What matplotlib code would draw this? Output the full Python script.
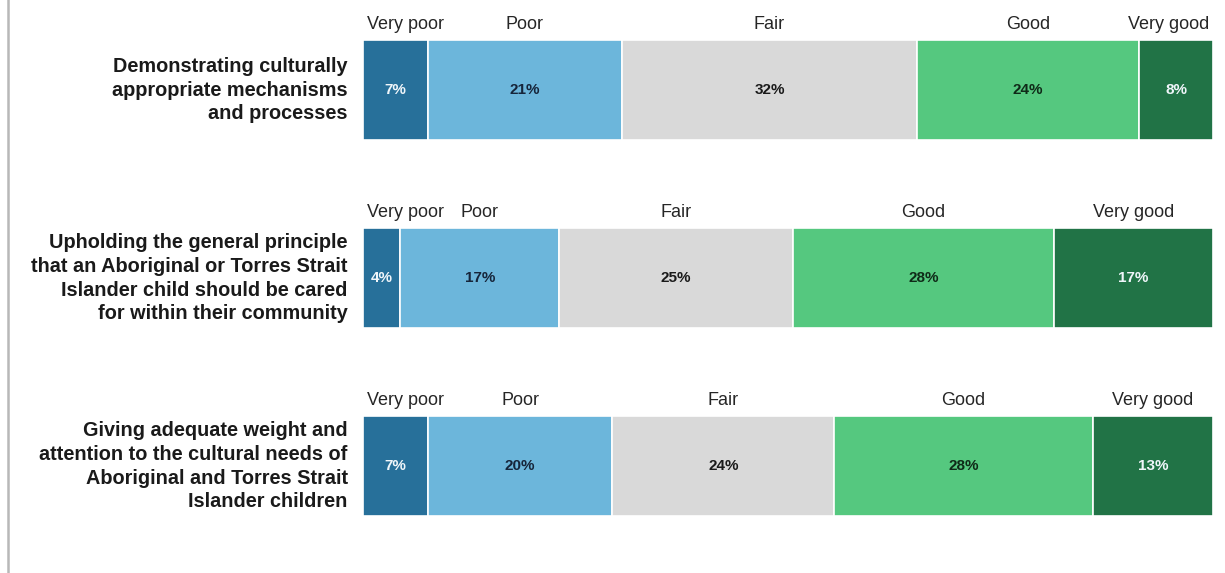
import numpy as np
import matplotlib.pyplot as plt
from matplotlib.lines import Line2D

plt.rcParams['font.family'] = ['Liberation Sans', 'DejaVu Sans']

###############
## Survey data

questions = [
    "Demonstrating culturally\nappropriate mechanisms\nand processes",
    "Upholding the general principle\nthat an Aboriginal or Torres Strait\nIslander child should be cared\nfor within their community",
    "Giving adequate weight and\nattention to the cultural needs of\nAboriginal and Torres Strait\nIslander children",
]
ratings = ["Very poor", "Poor", "Fair", "Good", "Very good"]

very_poor = [7, 4, 7]
poor = [21, 17, 20]
fair = [32, 25, 24]
good = [24, 28, 28]
very_good = [8, 17, 13]

colors = ["#27709a", "#6cb6db", "#d9d9d9", "#55c87f", "#217346"]
text_colors = ["#f0f6fa", "#16253a", "#1a1a1a", "#0f2a18", "#f0f6fa"]
###############

values = np.array([very_poor, poor, fair, good, very_good]).T
# widths are scaled so each bar fills the whole axis
shares = values / values.sum(axis=1, keepdims=True) * 100

fig = plt.figure(figsize=(12.25, 5.73), dpi=100)
ax = fig.add_axes([363 / 1225, 0, 850 / 1225, 1])

bar_h = 0.532
for i in range(len(questions)):
    left = 0
    for j in range(len(ratings)):
        w = shares[i, j]
        ax.barh(i, w, left=left, height=bar_h, color=colors[j],
                edgecolor='white', linewidth=1.2)
        ax.text(left + w / 2, i, f"{values[i, j]}%", ha='center', va='center',
                fontsize=11, fontweight='bold', color=text_colors[j])

        # rating name above each segment, kept inside the bar ends
        top = i - bar_h / 2
        if j == 0 and w < 10:
            ax.annotate(ratings[j], (left, top), xytext=(3, 5), textcoords='offset points',
                        ha='left', va='bottom', fontsize=13, color='#262626')
        elif j == len(ratings) - 1 and w < 10:
            ax.annotate(ratings[j], (left + w, top), xytext=(-3, 5), textcoords='offset points',
                        ha='right', va='bottom', fontsize=13, color='#262626')
        else:
            ax.annotate(ratings[j], (left + w / 2, top), xytext=(0, 5), textcoords='offset points',
                        ha='center', va='bottom', fontsize=13, color='#262626')
        left += w

    ax.annotate(questions[i], (0, i), xytext=(-11, 0), textcoords='offset points',
                ha='right', va='center', fontsize=14.3, fontweight='bold',
                color='#1a1a1a', linespacing=1.33)

ax.set_xlim(0, 100)
ax.set_ylim(2.569, -0.479)
ax.axis('off')

fig.add_artist(Line2D([8 / 1225, 8 / 1225], [0, 1], color='#b8b8b8', linewidth=1.8))

fig.savefig('out.png', dpi=100, facecolor='white')
